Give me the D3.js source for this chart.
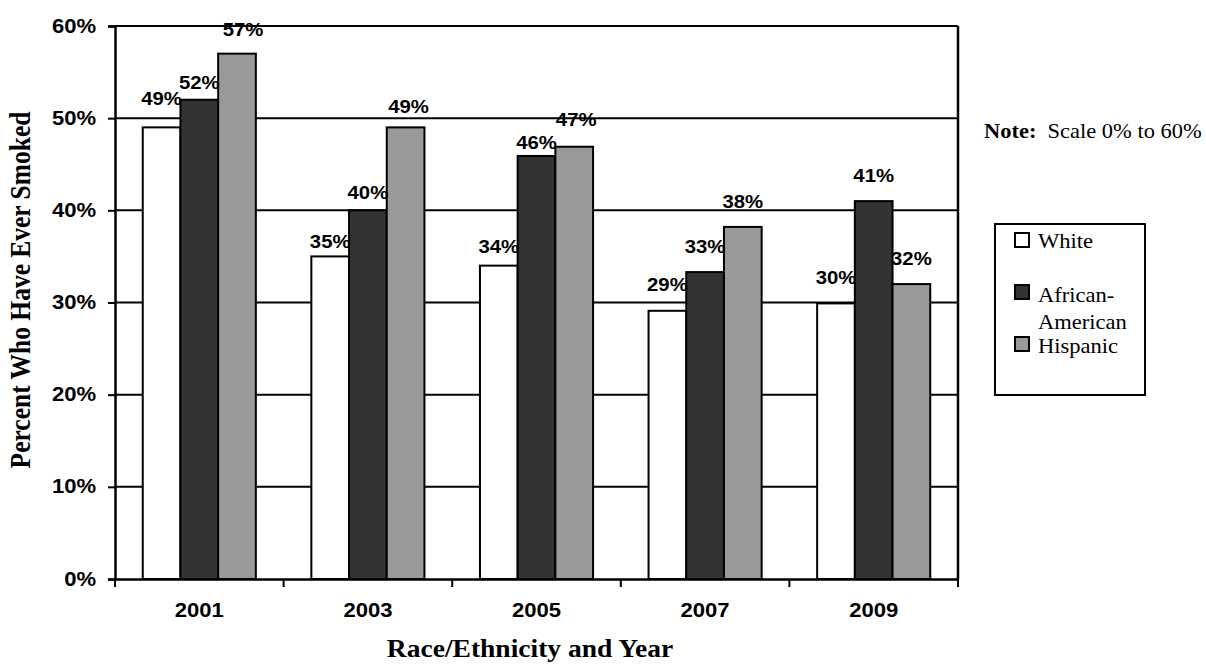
<!DOCTYPE html>
<html>
<head>
<meta charset="utf-8">
<script src="https://cdn.jsdelivr.net/npm/d3@7"></script>
<style>
  html, body { margin: 0; padding: 0; background: #fff; }
  svg { display: block; }
</style>
</head>
<body>
<svg id="chart" width="1206" height="665"></svg>
<script>
// ---- data ----
const years = ["2001", "2003", "2005", "2007", "2009"];
const seriesNames = ["White", "African-American", "Hispanic"];
const white = [49, 35, 34, 29.1, 29.9];
const africanAmerican = [52, 40, 45.9, 33.3, 41];
const hispanic = [57, 49, 46.9, 38.2, 32];
const valueLabels = [
  ["49%", "35%", "34%", "29%", "30%"],
  ["52%", "40%", "46%", "33%", "41%"],
  ["57%", "49%", "47%", "38%", "32%"]
];
const yTicks = [0, 10, 20, 30, 40, 50, 60];

// ---- layout ----
const svg = d3.select("#chart");
const plotLeft = 115, plotRight = 958, plotTop = 26, plotBottom = 579;
const colors = ["#ffffff", "#333333", "#999999"];
const seriesValues = [white, africanAmerican, hispanic];
// distance from bar top to label baseline (label placement in the original)
const labelLift = [
  [22, 8, 12.5, 19.5, 19.5],
  [11, 11, 7, 19, 19],
  [17.5, 14, 21, 19, 19]
];
const labelShift = [
  [0, 0, 0, 0, 0],
  [0, 0, 0, 0, 0],
  [6, 3, 2, 0, 0]
];

const x0 = d3.scaleBand().domain(years).range([plotLeft, plotRight]).paddingInner(0).paddingOuter(0);
const x1 = d3.scaleBand().domain(seriesNames).range([0, x0.bandwidth()]).paddingInner(0).paddingOuter(0.736);
const y = d3.scaleLinear().domain([0, 60]).range([plotBottom, plotTop]);

const serif = "'Liberation Serif', 'Times New Roman', serif";
const sans = "'Liberation Sans', Arial, sans-serif";

function stretchedText(g, xx, yy, txt, opts) {
  return g.append("text")
    .attr("transform", `translate(${xx},${yy}) scale(${opts.sx || 1.08},1)`)
    .attr("text-anchor", opts.anchor || "start")
    .style("font-family", opts.family || sans)
    .style("font-weight", opts.weight || "bold")
    .style("font-size", opts.size + "px")
    .attr("fill", "#000")
    .text(txt);
}

// gridlines
svg.append("g").selectAll("line").data(yTicks.filter(d => d > 0)).join("line")
  .attr("x1", plotLeft).attr("x2", plotRight)
  .attr("y1", d => y(d)).attr("y2", d => y(d))
  .attr("stroke", "#000").attr("stroke-width", 2);

// right border
svg.append("line").attr("x1", plotRight).attr("x2", plotRight).attr("y1", y(60)).attr("y2", y(0))
  .attr("stroke", "#000").attr("stroke-width", 2.5);

// bars
const groups = svg.append("g").selectAll("g").data(years).join("g")
  .attr("transform", d => `translate(${x0(d)},0)`);
groups.selectAll("rect").data((d, i) => seriesNames.map((s, j) => ({ s, j, v: seriesValues[j][i] })))
  .join("rect")
  .attr("x", d => x1(d.s))
  .attr("width", x1.bandwidth())
  .attr("y", d => y(d.v))
  .attr("height", d => y(0) - y(d.v))
  .attr("fill", d => colors[d.j])
  .attr("stroke", "#000").attr("stroke-width", 2);

// y axis
const yAxis = d3.axisLeft(y).tickValues(yTicks).tickSize(7).tickFormat("");
const ya = svg.append("g").attr("transform", `translate(${plotLeft},0)`).call(yAxis);
ya.select(".domain").attr("stroke", "#000").attr("stroke-width", 2.5);
ya.selectAll(".tick line").attr("stroke", "#000").attr("stroke-width", 2);
yTicks.forEach(t => {
  stretchedText(svg, 96, y(t) + 6.5, t + "%", { anchor: "end", size: 21, sx: 1.05 });
});

// x axis
const xAxis = d3.axisBottom(x0).tickSize(0).tickFormat("");
const xa = svg.append("g").attr("transform", `translate(0,${plotBottom})`).call(xAxis);
xa.select(".domain").attr("stroke", "#000").attr("stroke-width", 2.5);
const boundaries = years.map(d => x0(d)).concat([plotRight]);
svg.append("g").selectAll("line").data(boundaries).join("line")
  .attr("x1", d => d).attr("x2", d => d)
  .attr("y1", plotBottom).attr("y2", plotBottom + 8)
  .attr("stroke", "#000").attr("stroke-width", 2);
years.forEach(yr => {
  stretchedText(svg, x0(yr) + x0.bandwidth() / 2, 617, yr, { anchor: "middle", size: 21, sx: 1.05 });
});

// value labels
seriesNames.forEach((s, j) => {
  years.forEach((yr, i) => {
    const cx = x0(yr) + x1(s) + x1.bandwidth() / 2 + labelShift[j][i];
    stretchedText(svg, cx, y(seriesValues[j][i]) - labelLift[j][i], valueLabels[j][i],
      { anchor: "middle", size: 18.5, sx: 1.1 });
  });
});

// axis titles
stretchedText(svg, 530, 657, "Race/Ethnicity and Year",
  { anchor: "middle", size: 25.5, family: serif, sx: 1.08 });
svg.append("text")
  .attr("transform", `translate(30,290) scale(1.12,1) rotate(-90)`)
  .attr("text-anchor", "middle")
  .style("font-family", serif)
  .style("font-weight", "bold").style("font-size", "25.5px")
  .text("Percent Who Have Ever Smoked");

// note
const note = svg.append("text")
  .attr("transform", `translate(984,138) scale(1.07,1)`)
  .style("font-family", serif)
  .style("font-size", "21px");
note.append("tspan").style("font-weight", "bold").text("Note:");
note.append("tspan").text("\u00a0 Scale 0% to 60%");

// legend
svg.append("rect").attr("x", 995).attr("y", 224).attr("width", 150).attr("height", 171)
  .attr("fill", "#fff").attr("stroke", "#000").attr("stroke-width", 2);
const legendRows = [
  { sw: 233, lines: [[248, "White"]] },
  { sw: 285, lines: [[302, "African-"], [329, "American"]] },
  { sw: 337, lines: [[353, "Hispanic"]] }
];
legendRows.forEach((r, j) => {
  svg.append("rect").attr("x", 1015).attr("y", r.sw).attr("width", 14).attr("height", 14)
    .attr("fill", colors[j]).attr("stroke", "#000").attr("stroke-width", 2);
  r.lines.forEach(([ly, txt]) => {
    stretchedText(svg, 1038, ly, txt, { size: 20.5, weight: "normal", family: serif, sx: 1.1 });
  });
});
</script>
</body>
</html>
